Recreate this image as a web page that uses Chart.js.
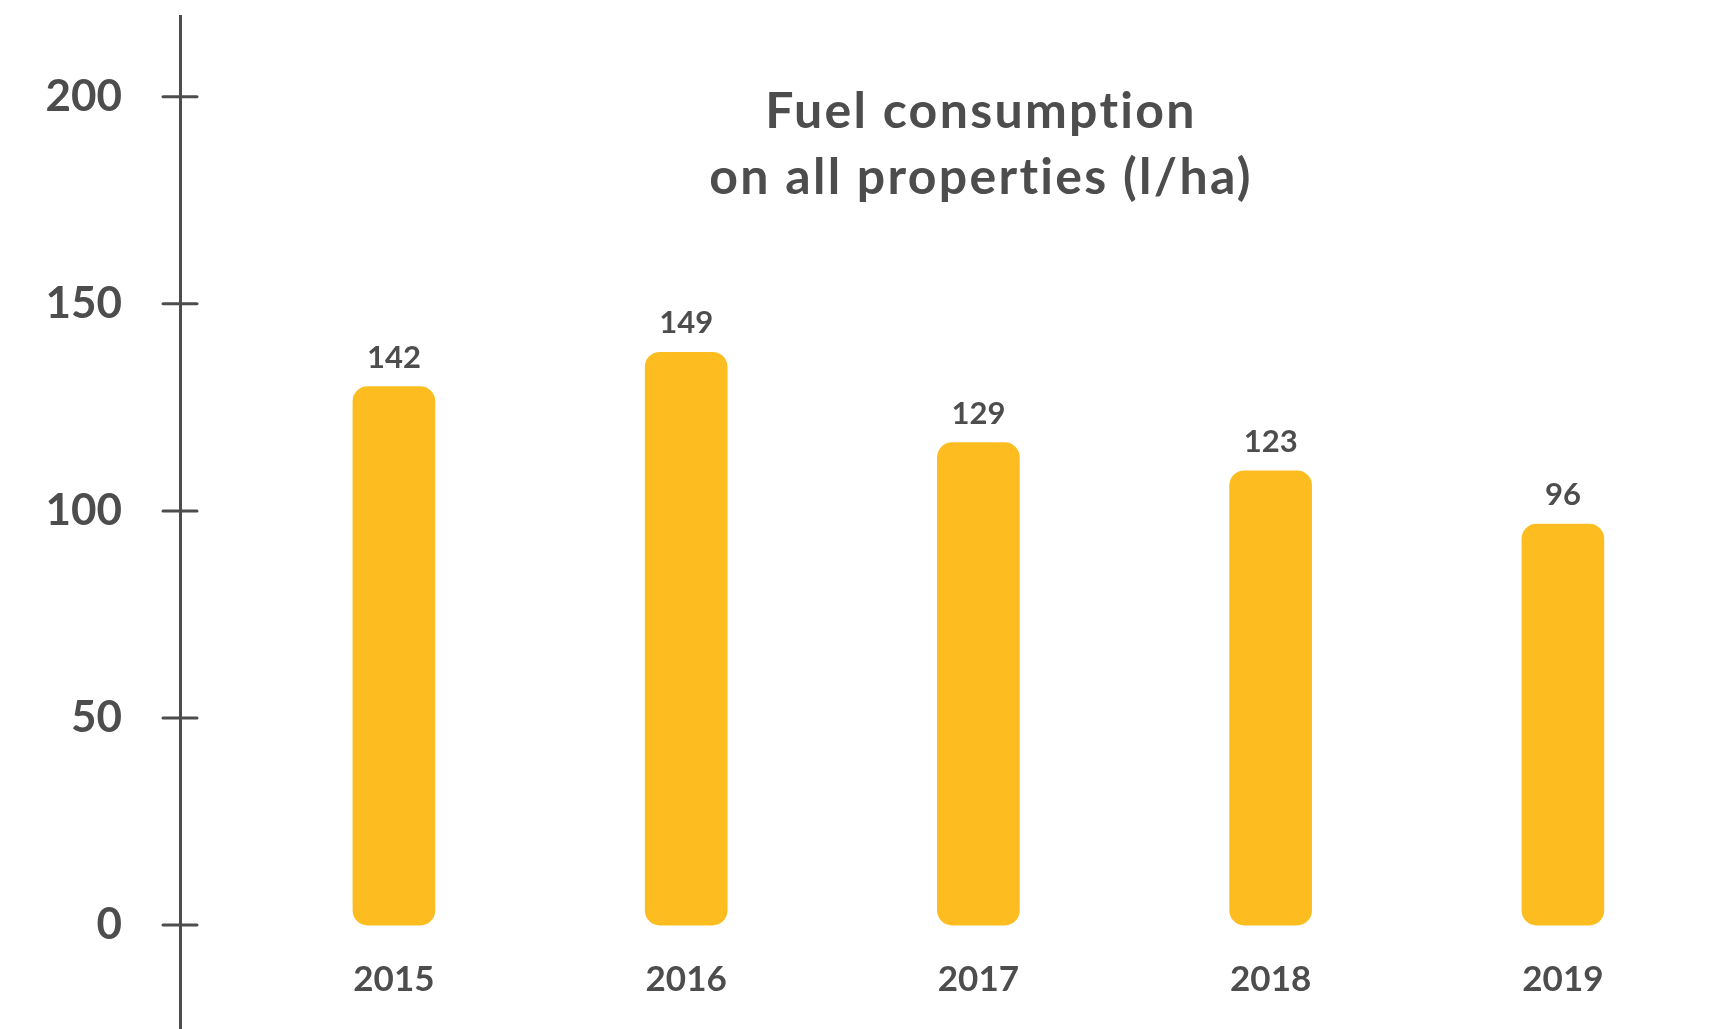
<!DOCTYPE html>
<html>
<head>
<meta charset="utf-8">
<title>Fuel consumption</title>
<script src="https://cdn.jsdelivr.net/npm/chart.js@4"></script>
<style>
    html, body { margin: 0; padding: 0; background: #fff; }
    #wrap { position: relative; width: 1728px; height: 1029px; }
    #fuelChart { display: block; }
    #title {
        position: absolute; left: 581px; top: 76px; width: 800px;
        text-align: center; color: #4d4d4d;
        font: 700 50px/66px Lato, sans-serif;
        letter-spacing: 2.3px;
        font-variant-ligatures: none;
    }
</style>
</head>
<body>
<div id="wrap">
    <canvas id="fuelChart" width="1728" height="1029"></canvas>
    <div id="title">Fuel consumption<br>on all properties (l/ha)</div>
</div>
<script>
// values as drawn (bar heights) and the printed labels
const years = ['2015', '2016', '2017', '2018', '2019'];
const barHeights = [130, 138.3, 116.5, 109.7, 96.8];
const valueLabels = ['142', '149', '129', '123', '96'];
const yTicks = [0, 50, 100, 150, 200];

const textColor = '#4d4d4d';
const barColor = '#fdbd21';

document.addEventListener('DOMContentLoaded', function () {
    // tick marks crossing the y axis line
    const axisTicks = {
        id: 'axisTicks',
        afterDraw(chart) {
            const yScale = chart.scales.y;
            const x0 = chart.chartArea.left;
            const ctx = chart.ctx;
            ctx.save();
            ctx.strokeStyle = textColor;
            ctx.lineWidth = 3;
            ctx.lineCap = 'round';
            yScale.ticks.forEach(t => {
                const py = yScale.getPixelForValue(t.value);
                ctx.beginPath();
                ctx.moveTo(x0 - 17, py);
                ctx.lineTo(x0 + 17, py);
                ctx.stroke();
            });
            ctx.restore();
        }
    };

    const barLabels = {
        id: 'barLabels',
        afterDatasetsDraw(chart) {
            const ctx = chart.ctx;
            ctx.save();
            ctx.font = '700 31px Lato';
            ctx.fillStyle = textColor;
            ctx.textAlign = 'center';
            ctx.textBaseline = 'alphabetic';
            chart.getDatasetMeta(0).data.forEach((bar, i) => {
                ctx.fillText(valueLabels[i], bar.x, bar.y - 19);
            });
            ctx.restore();
        }
    };

    const ctx = document.getElementById('fuelChart').getContext('2d');
    new Chart(ctx, {
        type: 'bar',
        data: {
            datasets: [{
                data: years.map((_, i) => ({ x: i, y: barHeights[i] })),
                backgroundColor: barColor,
                borderRadius: 15,
                borderSkipped: false,
                barThickness: 82
            }]
        },
        options: {
            responsive: false,
            animation: false,
            layout: { padding: { top: 16 } },
            plugins: {
                legend: { display: false },
                tooltip: { enabled: false }
            },
            scales: {
                x: {
                    type: 'linear',
                    position: { y: 0 },
                    offset: false,
                    min: -0.732,
                    max: 4.565,
                    grid: { display: false, drawTicks: false, offset: false },
                    border: { display: false },
                    afterBuildTicks: s => { s.ticks = years.map((_, i) => ({ value: i })); },
                    afterFit: s => { s.paddingLeft = 0; s.paddingRight = 0; s.paddingTop = 0; s.paddingBottom = 0; },
                    ticks: {
                        padding: 34,
                        autoSkip: false,
                        maxRotation: 0,
                        color: textColor,
                        font: { family: 'Lato', size: 35, weight: 'bold' },
                        callback: v => years[v]
                    }
                },
                y: {
                    min: -25.1,
                    max: 219.5,
                    grid: { display: false, drawTicks: false },
                    border: { display: true, color: textColor, width: 3 },
                    afterBuildTicks: s => { s.ticks = yTicks.map(v => ({ value: v })); },
                    afterFit: s => { s.width = 180; s.paddingTop = 0; s.paddingBottom = 0; },
                    ticks: {
                        padding: 58,
                        color: textColor,
                        font: { family: 'Lato', size: 44, weight: 'bold' }
                    }
                }
            }
        },
        plugins: [axisTicks, barLabels]
    });
});
</script>
</body>
</html>
